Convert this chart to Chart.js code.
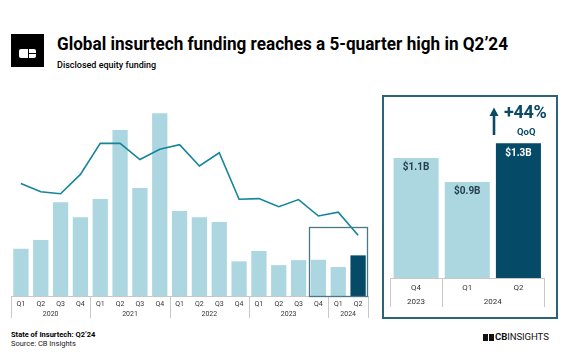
<!DOCTYPE html>
<html>
<head>
<meta charset="utf-8">
<script src="https://cdn.jsdelivr.net/npm/chart.js@4"></script>
<style>
  html, body { margin: 0; padding: 0; background: #fff; }
  body { width: 572px; height: 364px; position: relative; overflow: hidden; font-family: "Roboto", sans-serif; color: #000; }
  .abs { position: absolute; white-space: nowrap; }
  #logo-box { left: 11px; top: 34px; width: 33px; height: 33px; background: #000; }
  #logo-mark { left: 8px; top: 15px; width: 17px; height: 9px; background: #fff; border-radius: 2px; }
  #logo-v { left: 9px; top: 0; width: 1px; height: 9px; background: #000; }
  #logo-h { left: 9px; top: 4px; width: 8px; height: 1px; background: #000; }
  #title { left: 57px; top: 36px; font-size: 17.5px; line-height: 17.5px; font-weight: 700; transform-origin: 0 0; }
  #subtitle { left: 57px; top: 61px; font-size: 9px; line-height: 9px; font-weight: 500; }
  #main-wrap { left: 0; top: 90px; width: 380px; height: 240px; }
  #inset-box { left: 382px; top: 95px; width: 172px; height: 220px; border: 2px solid #2b6379; }
  #inset-wrap { left: 382px; top: 95px; width: 176px; height: 224px; }
  #growth { left: 504px; top: 103px; font-size: 18px; line-height: 18px; font-weight: 700; color: #0b4a66; letter-spacing: -0.3px; }
  #qoq { left: 517px; top: 127px; font-size: 9.5px; line-height: 9.5px; font-weight: 700; color: #0b4a66; }
  #note { left: 11px; top: 331px; font-size: 7.5px; line-height: 7.5px; font-weight: 700; }
  #source { left: 11px; top: 340px; font-size: 7.5px; line-height: 7.5px; color: #222; }
  #cb-icon { left: 483px; top: 334px; width: 11px; height: 7px; background: #111; }
  #cb-icon-v { left: 5px; top: 0; width: 1px; height: 7px; background: #fff; }
  #cb-text { left: 495px; top: 332px; font-size: 9.6px; line-height: 9.6px; color: #111; letter-spacing: -0.1px; }
</style>
</head>
<body>
<div class="abs" id="logo-box">
  <div class="abs" id="logo-mark">
    <div class="abs" id="logo-v"></div>
    <div class="abs" id="logo-h"></div>
  </div>
</div>
<div class="abs" id="title">Global insurtech funding reaches a 5-quarter high in Q2’24</div>
<div class="abs" id="subtitle">Disclosed equity funding</div>

<div class="abs" id="main-wrap"><canvas id="main-chart" width="380" height="240"></canvas></div>

<div class="abs" id="inset-box"></div>
<div class="abs" id="inset-wrap"><canvas id="inset-chart" width="176" height="224"></canvas></div>
<svg class="abs" style="left:486px;top:104px" width="16" height="34">
  <line x1="8" y1="9" x2="8" y2="31" stroke="#0b4a66" stroke-width="2.6"/>
  <polygon points="3.5,12 8,3.5 12.5,12" fill="#0b4a66"/>
</svg>
<div class="abs" id="growth">+44%</div>
<div class="abs" id="qoq">QoQ</div>

<div class="abs" id="note">State of Insurtech: Q2’24</div>
<div class="abs" id="source">Source: CB Insights</div>
<div class="abs" id="cb-icon"><div class="abs" id="cb-icon-v"></div></div>
<div class="abs" id="cb-text"><b>CB</b>INSIGHTS</div>

<script>
// quarterly disclosed equity funding ($B) and deal count
const quarterLabels = ["Q1", "Q2", "Q3", "Q4", "Q1", "Q2", "Q3", "Q4", "Q1", "Q2", "Q3", "Q4", "Q1", "Q2", "Q3", "Q4", "Q1", "Q2"];
const quarterYears = ["2020", "2020", "2020", "2020", "2021", "2021", "2021", "2021", "2022", "2022", "2022", "2022", "2023", "2023", "2023", "2023", "2024", "2024"];
const fundingValues = [1.5, 1.78, 2.98, 2.5, 3.08, 5.27, 3.43, 5.8, 2.7, 2.5, 2.35, 1.1, 1.43, 0.98, 1.14, 1.15, 0.92, 1.29];
const dealCounts = [349, 323, 317, 377, 473, 473, 423, 455, 469, 403, 444, 300, 302, 277, 299, 248, 260, 188];

// last quarters shown in the zoom panel
const insetCount = 3;
const insetLabels = ["$1.1B", "$0.9B", "$1.3B"];

const lightBar = "#acd7e0";
const darkBar = "#054a67";
const lineColor = "#15859a";
const axisGray = "#c8c8c8";
const labelColor = "#333333";

// fit the title to its width in the picture
const titleEl = document.getElementById("title");
titleEl.style.transform = `scaleX(${451 / titleEl.getBoundingClientRect().width})`;

function groupSpans(years) {
  const spans = [];
  years.forEach((year, i) => {
    const last = spans[spans.length - 1];
    if (last && last.label === year) last.end = i;
    else spans.push({ label: year, start: i, end: i });
  });
  return spans;
}

function drawYearGroups(chart, years, lineBottom, labelY, fontSize) {
  const { ctx, chartArea } = chart;
  const x = chart.scales.x;
  const half = (x.getPixelForValue(1) - x.getPixelForValue(0)) / 2;
  const spans = groupSpans(years);
  ctx.save();
  ctx.strokeStyle = axisGray;
  ctx.lineWidth = 1;
  ctx.beginPath();
  ctx.moveTo(chartArea.left, chartArea.bottom + 0.5);
  ctx.lineTo(chartArea.right, chartArea.bottom + 0.5);
  const edges = [x.getPixelForValue(0) - half];
  spans.forEach((s) => edges.push(x.getPixelForValue(s.end) + half));
  edges.forEach((px) => {
    const xx = Math.round(px) + 0.5;
    ctx.moveTo(xx, chartArea.bottom);
    ctx.lineTo(xx, chartArea.bottom + lineBottom);
  });
  ctx.stroke();
  ctx.fillStyle = labelColor;
  ctx.font = `${fontSize}px Roboto`;
  ctx.textAlign = "center";
  ctx.textBaseline = "middle";
  spans.forEach((s) => {
    const cx = (x.getPixelForValue(s.start) + x.getPixelForValue(s.end)) / 2;
    ctx.fillText(s.label, cx, chartArea.bottom + labelY);
  });
  ctx.restore();
}

const mainGroupsPlugin = {
  id: "mainGroups",
  afterDraw(chart) {
    drawYearGroups(chart, quarterYears, 22, 18.5, 7);
    // frame around the zoomed quarters
    const { ctx, chartArea } = chart;
    const x = chart.scales.x;
    const y = chart.scales.y;
    const half = (x.getPixelForValue(1) - x.getPixelForValue(0)) / 2;
    const first = quarterLabels.length - insetCount;
    const left = Math.round(x.getPixelForValue(first) - half) + 0.5;
    const right = Math.round(chartArea.right) - 0.5;
    const top = Math.round(y.getPixelForValue(2.2)) + 0.5;
    ctx.save();
    ctx.strokeStyle = "#4b7788";
    ctx.lineWidth = 1.3;
    ctx.strokeRect(left, top, right - left, chartArea.bottom - top + 0.5);
    ctx.restore();
  }
};

new Chart(document.getElementById("main-chart"), {
  type: "bar",
  data: {
    labels: quarterLabels,
    datasets: [
      {
        type: "line",
        data: dealCounts,
        yAxisID: "y1",
        borderColor: lineColor,
        borderWidth: 1.6,
        pointRadius: 0,
        tension: 0,
        order: 0
      },
      {
        data: fundingValues,
        yAxisID: "y",
        backgroundColor: fundingValues.map((v, i) => (i === fundingValues.length - 1 ? darkBar : lightBar)),
        barPercentage: 0.77,
        categoryPercentage: 1,
        order: 1
      }
    ]
  },
  options: {
    responsive: false,
    animation: false,
    layout: { padding: { left: 11, right: 12, top: 6, bottom: 0 } },
    plugins: { legend: { display: false }, tooltip: { enabled: false } },
    scales: {
      x: {
        grid: { display: false, drawTicks: false },
        border: { display: false },
        ticks: { padding: 4, color: labelColor, font: { family: "Roboto", size: 7 }, maxRotation: 0, autoSkip: false },
        afterFit(scale) { scale.height = 34; }
      },
      y: { display: false, min: 0, max: 6.35 },
      y1: { display: false, min: 0, max: 620 }
    }
  },
  plugins: [mainGroupsPlugin]
});

// inset: the last three quarters
const insetValues = fundingValues.slice(-insetCount);
const insetQuarters = quarterLabels.slice(-insetCount);
const insetYears = quarterYears.slice(-insetCount);

const insetPlugin = {
  id: "insetGroups",
  afterDraw(chart) {
    drawYearGroups(chart, insetYears, 29, 23.5, 8);
    const { ctx } = chart;
    const meta = chart.getDatasetMeta(0);
    ctx.save();
    ctx.font = "bold 10px Roboto";
    ctx.textAlign = "center";
    ctx.textBaseline = "middle";
    meta.data.forEach((bar, i) => {
      ctx.fillStyle = i === insetCount - 1 ? "#ffffff" : "#24404f";
      ctx.fillText(insetLabels[i], bar.x, bar.y + 10);
    });
    ctx.restore();
  }
};

new Chart(document.getElementById("inset-chart"), {
  type: "bar",
  data: {
    labels: insetQuarters,
    datasets: [
      {
        data: insetValues,
        backgroundColor: insetValues.map((v, i) => (i === insetCount - 1 ? darkBar : lightBar)),
        barPercentage: 0.88,
        categoryPercentage: 1
      }
    ]
  },
  options: {
    responsive: false,
    animation: false,
    layout: { padding: { left: 8.5, right: 14, top: 16, bottom: 0 } },
    plugins: { legend: { display: false }, tooltip: { enabled: false } },
    scales: {
      x: {
        grid: { display: false, drawTicks: false },
        border: { display: false },
        ticks: { padding: 5, color: labelColor, font: { family: "Roboto", size: 8 }, maxRotation: 0 },
        afterFit(scale) { scale.height = 41; }
      },
      y: { display: false, min: 0, max: 1.6 }
    }
  },
  plugins: [insetPlugin]
});
</script>
</body>
</html>
